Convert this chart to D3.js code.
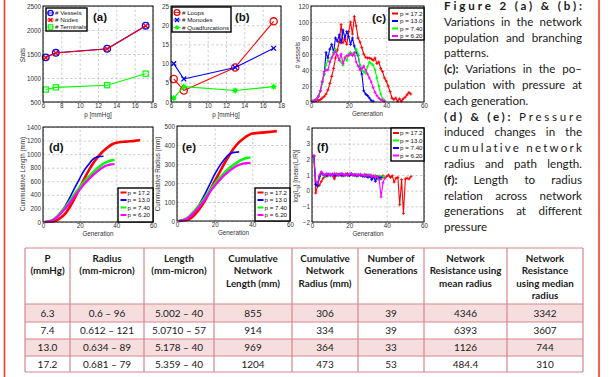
<!DOCTYPE html>
<html>
<head>
<meta charset="utf-8">
<script src="https://cdnjs.cloudflare.com/ajax/libs/d3/7.8.5/d3.min.js"></script>
<style>
  html, body { margin: 0; padding: 0; background: #fff; }
</style>
</head>
<body>
<script>
// ---------- data ----------
const pressures = [6.3, 7.4, 13.0, 17.2];
const vessels = [1430, 1525, 1610, 2090];
const nodes = [1425, 1520, 1605, 2085];
const terminals = [760, 805, 850, 1090];
const loops = [6, 3, 9, 21];
const monodes = [10, 6, 9, 14];
const quadfurcations = [1, 4, 3, 4];

const pLabels = ["p = 17.2", "p = 13.0", "p = 7.40", "p = 6.20"];

// (c) number of vessels per generation (generation 1..n)
const count172 = [1, 1, 2, 2, 3, 5, 7, 10, 15, 23, 32, 42, 55, 65, 75, 97, 74, 78, 72, 88, 100, 85, 107, 95, 80, 75, 68, 60, 56, 55, 55, 54, 52, 55, 48, 50, 42, 38, 30, 26, 20, 13, 5, 3, 5, 1, 4, 1, 4, 6, 9, 12, 10];
const count130 = [1, 2, 4, 8, 14, 25, 35, 62, 55, 66, 72, 62, 80, 76, 84, 74, 90, 80, 88, 82, 72, 80, 70, 62, 58, 45, 35, 14, 10, 8, 5, 2, 1];
const count740 = [1, 2, 4, 8, 14, 24, 36, 46, 52, 50, 56, 62, 66, 58, 54, 50, 46, 56, 52, 60, 62, 60, 58, 66, 60, 46, 40, 38, 36, 44, 50, 48, 46, 40, 30, 20, 10, 4, 2];
const count620 = [1, 2, 3, 7, 14, 26, 38, 40, 40, 50, 55, 60, 63, 58, 52, 60, 48, 55, 58, 58, 60, 58, 62, 50, 45, 40, 42, 45, 40, 35, 30, 25, 18, 12, 8, 5, 3, 2, 1];

// (d) cumulative length [generation, mm]
const cumLen172 = [[1,0],[5,8],[8,30],[10,70],[12,120],[15,240],[18,390],[20,500],[22,610],[25,760],[28,890],[30,960],[33,1050],[35,1095],[38,1150],[40,1168],[45,1185],[50,1195],[53,1204]];
const cumLen130 = [[1,0],[5,20],[8,80],[10,150],[12,230],[15,380],[18,540],[20,640],[22,740],[25,850],[27,920],[29,955],[31,965],[33,969]];
const cumLen740 = [[1,0],[5,25],[8,90],[10,150],[12,210],[15,320],[18,440],[20,510],[22,580],[25,670],[28,750],[30,800],[33,860],[35,885],[37,905],[39,914]];
const cumLen620 = [[1,0],[5,20],[8,80],[10,135],[12,195],[15,295],[18,410],[20,475],[22,545],[25,630],[28,710],[30,755],[33,810],[35,835],[37,850],[39,855]];

// (e) cumulative radius [generation, mm]
const cumRad172 = [[1,0],[5,5],[8,20],[10,40],[12,65],[15,110],[18,170],[20,210],[22,245],[25,300],[28,350],[30,380],[33,415],[35,432],[38,452],[40,460],[45,465],[50,470],[53,473]];
const cumRad130 = [[1,0],[5,10],[8,35],[10,60],[12,90],[15,145],[18,205],[20,245],[22,280],[25,322],[27,345],[29,358],[31,362],[33,364]];
const cumRad740 = [[1,0],[5,12],[8,40],[10,62],[12,85],[15,125],[18,168],[20,195],[22,220],[25,252],[28,280],[30,295],[33,315],[35,325],[37,332],[39,334]];
const cumRad620 = [[1,0],[5,10],[8,35],[10,55],[12,78],[15,115],[18,160],[20,185],[22,208],[25,240],[28,265],[30,280],[33,296],[35,302],[37,305],[39,306]];

// (f) log(L/R) per generation (generation 1..n)
const ratio172 = [2.2, -0.15, 0.3, 0.35, 0.6, 0.8, 0.9, 0.95, 1.0, 1.0, 0.95, 0.75, 1.0, 1.05, 1.0, 1.05, 0.95, 1.0, 1.1, 1.0, 1.05, 1.0, 1.0, 0.95, 1.0, 1.0, 0.95, 1.0, 0.9, 1.0, 0.95, 0.85, 0.9, 0.95, 0.8, 0.9, 0.75, 0.95, 0.8, 0.9, 1.0, 0.85, 0.95, 0.55, 0.8, 0.85, -0.9, 0.7, -1.45, 0.75, 0.8, 0.75, 0.9];
const ratio130 = [2.1, 0.5, 0.4, 0.8, 1.1, 1.0, 0.9, 1.05, 1.0, 0.95, 1.05, 1.0, 1.1, 0.95, 1.0, 1.05, 1.0, 0.95, 1.05, 1.0, 1.1, 1.0, 0.95, 1.05, 1.0, 1.0, 0.9, 1.05, 0.95, 1.0, 0.9, 1.0, 0.85, 0.9, 0.75, 0.95, 0.8, 0.9, 0.85];
const ratio740 = [2.2, 0.4, 0.3, 0.9, 1.15, 1.05, 1.0, 0.95, 1.05, 1.0, 1.05, 0.95, 1.0, 1.0, 1.05, 0.95, 1.0, 1.05, 1.0, 0.95, 1.05, 1.0, 1.0, 0.95, 1.0, 1.0, 0.95, 0.9, 1.0, 0.85, 0.95, 0.7, 0.9, 0.6, 0.9, 0.8, 0.85];
const ratio620 = [2.25, 0.6, 0.5, 1.0, 1.2, 1.05, 1.0, 1.1, 1.0, 1.05, 1.0, 1.1, 1.05, 1.0, 1.05, 1.1, 1.0, 1.05, 1.0, 1.05, 1.1, 1.0, 1.05, 1.0, 1.0, 1.05, 1.0, 0.95, 1.0, 0.95, 1.0, 0.9, 0.95, 0.85, 0.9, 0.7, -0.4, 0.5, 0.8];

const pTicks = [6, 8, 10, 12, 14, 16, 18];
const genTicks = [0, 20, 40, 60];

const tableHead = [["P", "(mmHg)"], ["Radius", "(mm-micron)"], ["Length", "(mm-micron)"],
  ["Cumulative", "Network", "Length (mm)"], ["Cumulative", "Network", "Radius (mm)"],
  ["Number of", "Generations"], ["Network", "Resistance using", "mean radius"],
  ["Network", "Resistance", "using median", "radius"]];
const tableRows = [
  ["6.3", "0.6 – 96", "5.002 – 40", "855", "306", "39", "4346", "3342"],
  ["7.4", "0.612 – 121", "5.0710 – 57", "914", "334", "39", "6393", "3607"],
  ["13.0", "0.634 – 89", "5.178 – 40", "969", "364", "33", "1126", "744"],
  ["17.2", "0.681 – 79", "5.359 – 40", "1204", "473", "53", "484.4", "310"]
];

// caption: [bold part, normal part]
const captionLines = [
  ["Figure 2 (a) & (b):", ""],
  ["", "Variations in the network"],
  ["", "population and branching"],
  ["", "patterns."],
  ["(c):", "Variations in the po–"],
  ["", "pulation with pressure at"],
  ["", "each generation."],
  ["(d) & (e):", "Pressure"],
  ["", "induced changes in the"],
  ["", "cumulative network"],
  ["", "radius and path length."],
  ["(f):", "Length to radius"],
  ["", "relation across network"],
  ["", "generations at different"],
  ["", "pressure"]
];
const captionRagged = [3, 6, 14];
const captionSpread = [0, 7, 9];

// ---------- drawing ----------
const AX_FONT = "'Liberation Sans', Arial, sans-serif";
const TXT_FONT = "Lato, 'Open Sans', sans-serif";
const RED = "#ff0000", BLUE = "#0000ff", GREEN = "#00ff00", MAG = "#ff00ff";

const svg = d3.select("body").append("svg")
  .attr("width", 610).attr("height", 377)
  .style("display", "block");

svg.append("rect").attr("width", 610).attr("height", 377).attr("fill", "#fff");

function panel(b, xDom, yDom, xTicks, yTicks) {
  const g = svg.append("g");
  const x = d3.scaleLinear().domain(xDom).range([b.x0, b.x1]);
  const y = d3.scaleLinear().domain(yDom).range([b.y1, b.y0]);
  g.append("rect").attr("x", b.x0).attr("y", b.y0)
    .attr("width", b.x1 - b.x0).attr("height", b.y1 - b.y0).attr("fill", "#fff");

  const fmt = d3.format("d");
  const gx = g.append("g").attr("transform", `translate(0,${b.y1})`)
    .call(d3.axisBottom(x).tickValues(xTicks).tickFormat(fmt).tickSize(-(b.y1 - b.y0)).tickPadding(1.5));
  const gy = g.append("g").attr("transform", `translate(${b.x0},0)`)
    .call(d3.axisLeft(y).tickValues(yTicks).tickFormat(fmt).tickSize(-(b.x1 - b.x0)).tickPadding(2));
  [gx, gy].forEach(a => {
    a.select(".domain").remove();
    a.selectAll(".tick line").attr("stroke", "#c4c4c4").attr("stroke-dasharray", "2.5,2").attr("stroke-width", 0.8);
    a.selectAll(".tick text").attr("font-size", 6.3).attr("font-family", AX_FONT).attr("fill", "#333");
  });
  const plot = g.append("g");
  const top = svg.append("g");
  top.append("rect").attr("x", b.x0).attr("y", b.y0)
    .attr("width", b.x1 - b.x0).attr("height", b.y1 - b.y0)
    .attr("fill", "none").attr("stroke", "#000").attr("stroke-width", 1);
  return { plot, top, x, y, b };
}

function marker(g, kind, cx, cy, color, s) {
  if (kind === "circle") {
    g.append("circle").attr("cx", cx).attr("cy", cy).attr("r", s)
      .attr("fill", "none").attr("stroke", color).attr("stroke-width", 1.3);
  } else if (kind === "x") {
    g.append("path").attr("d", `M${cx - s},${cy - s}L${cx + s},${cy + s}M${cx - s},${cy + s}L${cx + s},${cy - s}`)
      .attr("stroke", color).attr("stroke-width", 1.3);
  } else if (kind === "square") {
    g.append("rect").attr("x", cx - s).attr("y", cy - s).attr("width", 2 * s).attr("height", 2 * s)
      .attr("fill", "none").attr("stroke", color).attr("stroke-width", 1.2);
  } else if (kind === "star") {
    g.append("circle").attr("cx", cx).attr("cy", cy).attr("r", s * 0.75).attr("fill", color);
    g.append("path").attr("d", `M${cx - s},${cy}L${cx + s},${cy}M${cx},${cy - s}L${cx},${cy + s}M${cx - s * 0.7},${cy - s * 0.7}L${cx + s * 0.7},${cy + s * 0.7}M${cx - s * 0.7},${cy + s * 0.7}L${cx + s * 0.7},${cy - s * 0.7}`)
      .attr("stroke", color).attr("stroke-width", 1);
  } else if (kind === "plus") {
    g.append("path").attr("d", `M${cx - s},${cy}L${cx + s},${cy}M${cx},${cy - s}L${cx},${cy + s}`)
      .attr("stroke", color).attr("stroke-width", 0.9);
  }
}

function series(p, pts, color, width, mk, mkSize, curve) {
  const line = d3.line().x(d => p.x(d[0])).y(d => p.y(d[1]));
  if (curve) line.curve(curve);
  p.plot.append("path").datum(pts).attr("d", line)
    .attr("fill", "none").attr("stroke", color).attr("stroke-width", width)
    .attr("stroke-linejoin", "round");
  if (mk) pts.forEach(d => marker(p.plot, mk, p.x(d[0]), p.y(d[1]), color, mkSize));
}

const byGen = arr => arr.map((v, i) => [i + 1, v]);
const byP = arr => arr.map((v, i) => [pressures[i], v]);

function legend(p, lx, ly, w, h, items, rowY, symX, textX, lineSample) {
  const g = p.top.append("g");
  g.append("rect").attr("x", lx).attr("y", ly).attr("width", w).attr("height", h)
    .attr("fill", "#fff").attr("stroke", "#000").attr("stroke-width", 1.4);
  items.forEach((it, i) => {
    const yy = rowY[i];
    if (lineSample) {
      g.append("line").attr("x1", symX - 3).attr("x2", symX + 3).attr("y1", yy).attr("y2", yy)
        .attr("stroke", it.color).attr("stroke-width", 2);
    } else {
      g.append("line").attr("x1", symX - 3.5).attr("x2", symX + 3.5).attr("y1", yy).attr("y2", yy)
        .attr("stroke", it.color).attr("stroke-width", 0.8);
      marker(g, it.mk, symX, yy, it.color, it.s);
    }
    g.append("text").attr("x", textX).attr("y", yy).attr("dy", "0.35em")
      .attr("font-size", 6.2).attr("font-family", AX_FONT).attr("fill", "#111").text(it.label);
  });
}

function tag(p, tx, ty, s) {
  p.top.append("text").attr("x", tx).attr("y", ty).attr("font-size", 11.5)
    .attr("font-weight", "bold").attr("font-family", AX_FONT).attr("fill", "#111").text(s);
}

function xLabel(p, ty, s) {
  p.top.append("text").attr("x", (p.b.x0 + p.b.x1) / 2).attr("y", ty).attr("text-anchor", "middle")
    .attr("font-size", 6.3).attr("font-family", AX_FONT).attr("fill", "#333").text(s);
}
function yLabel(p, tx, cy, s) {
  return p.top.append("text").attr("transform", `translate(${tx},${cy}) rotate(-90)`).attr("text-anchor", "middle")
    .attr("font-size", 6.3).attr("font-family", AX_FONT).attr("fill", "#333").text(s);
}

// (a)
const pa = panel({ x0: 43, x1: 153, y0: 6, y1: 102 }, [6, 18], [500, 2500], pTicks, [500, 1000, 1500, 2000, 2500]);
series(pa, byP(vessels), BLUE, 1.1, "circle", 3.3);
series(pa, byP(nodes), RED, 1.1, "x", 2.4);
series(pa, byP(terminals), GREEN, 1.1, "square", 2.6);
legend(pa, 46, 8, 41, 23, [
  { label: "# Vessels", color: BLUE, mk: "circle", s: 2.6 },
  { label: "# Nodes", color: RED, mk: "x", s: 2 },
  { label: "# Terminals", color: GREEN, mk: "square", s: 2.2 }], [13, 20, 27], 50.5, 55);
tag(pa, 93, 21, "(a)");
xLabel(pa, 116.5, "p [mmHg]");
yLabel(pa, 25, 55, "Stats");

// (b)
const pb = panel({ x0: 171, x1: 281, y0: 6, y1: 102 }, [6, 18], [0, 25], pTicks, [0, 5, 10, 15, 20, 25]);
series(pb, byP(loops), RED, 1.1, "circle", 3.6);
series(pb, byP(monodes), BLUE, 1.1, "x", 2.4);
series(pb, byP(quadfurcations), GREEN, 1.1, "star", 3);
legend(pb, 172, 7, 59, 25, [
  { label: "# Loops", color: RED, mk: "circle", s: 2.8 },
  { label: "# Monodes", color: BLUE, mk: "x", s: 2 },
  { label: "# Quadfurcations", color: GREEN, mk: "star", s: 2.4 }], [12.5, 20, 27.5], 177, 182);
tag(pb, 235, 21, "(b)");
xLabel(pb, 116.5, "p [mmHg]");

// (c)
const pc = panel({ x0: 311, x1: 424, y0: 6, y1: 102 }, [0, 60], [0, 120], genTicks, [0, 20, 40, 60, 80, 100, 120]);
series(pc, byGen(count172), RED, 1.1, "plus", 1.5);
series(pc, byGen(count130), BLUE, 1.1, "plus", 1.5);
series(pc, byGen(count740), GREEN, 1.1, "plus", 1.5);
series(pc, byGen(count620), MAG, 1.1, "plus", 1.5);
legend(pc, 389, 8, 35, 32, pLabels.map((l, i) => ({ label: l, color: [RED, BLUE, GREEN, MAG][i] })),
  [13.5, 21, 28.5, 36], 395, 400, true);
tag(pc, 372, 22, "(c)");
xLabel(pc, 116, "Generation");
yLabel(pc, 300, 55, "# vessels");

// (d)
const pd = panel({ x0: 43, x1: 153, y0: 127, y1: 222 }, [0, 60], [0, 1400], genTicks, [0, 200, 400, 600, 800, 1000, 1200, 1400]);
series(pd, cumLen172, RED, 2.6, null, 0, d3.curveMonotoneX);
series(pd, cumLen130, BLUE, 1.6, null, 0, d3.curveMonotoneX);
series(pd, cumLen740, GREEN, 2.6, null, 0, d3.curveMonotoneX);
series(pd, cumLen620, MAG, 2.2, null, 0, d3.curveMonotoneX);
legend(pd, 118, 188, 35, 34, pLabels.map((l, i) => ({ label: l, color: [RED, BLUE, GREEN, MAG][i] })),
  [192.5, 200, 207.5, 215], 123.5, 127.5, true);
tag(pd, 49, 151, "(d)");
xLabel(pd, 235.5, "Generation");
yLabel(pd, 25, 174, "Cummulative Length (mm)");

// (e)
const pe = panel({ x0: 177, x1: 290, y0: 126, y1: 221 }, [0, 60], [0, 500], genTicks, [0, 100, 200, 300, 400, 500]);
series(pe, cumRad172, RED, 2.6, null, 0, d3.curveMonotoneX);
series(pe, cumRad130, BLUE, 1.6, null, 0, d3.curveMonotoneX);
series(pe, cumRad740, GREEN, 2.6, null, 0, d3.curveMonotoneX);
series(pe, cumRad620, MAG, 2.2, null, 0, d3.curveMonotoneX);
legend(pe, 255, 188, 35, 33, pLabels.map((l, i) => ({ label: l, color: [RED, BLUE, GREEN, MAG][i] })),
  [192.5, 200, 207.5, 215], 260.5, 264.5, true);
tag(pe, 182, 151, "(e)");
xLabel(pe, 234.5, "Generation");
yLabel(pe, 160, 174, "Cummulative Radius (mm)");

// (f)
const pf = panel({ x0: 312, x1: 424, y0: 128, y1: 222 }, [0, 60], [-2, 4], genTicks, [-2, -1, 0, 1, 2, 3, 4]);
series(pf, byGen(ratio172), RED, 1.1, "plus", 1.5);
series(pf, byGen(ratio130), GREEN, 1.1, "plus", 1.5);
series(pf, byGen(ratio740), BLUE, 1.1, "plus", 1.5);
series(pf, byGen(ratio620), MAG, 1.1, "plus", 1.5);
legend(pf, 391, 128, 33, 33, pLabels.map((l, i) => ({ label: l, color: [RED, GREEN, BLUE, MAG][i] })),
  [133, 140.5, 148, 155.5], 396, 400, true);
tag(pf, 317, 151, "(f)");
xLabel(pf, 235.5, "Generation");
const fl = yLabel(pf, 298, 176, "");
fl.append("tspan").text("log(L");
fl.append("tspan").attr("font-size", 4.5).attr("dy", 1.5).text("ij");
fl.append("tspan").attr("dy", -1.5).text(")  [mean(L/R)]");

// ---------- caption ----------
const CAP_X0 = 444, CAP_X1 = 582;
const cap = svg.append("g").attr("font-family", TXT_FONT).attr("font-size", 11.6).attr("fill", "#1a1a1a");
captionLines.forEach((ln, i) => {
  const by = 10 + i * 15.8;
  const words = [];
  ln[0].split(" ").filter(Boolean).forEach(w => words.push({ w, b: true }));
  ln[1].split(" ").filter(Boolean).forEach(w => words.push({ w, b: false }));
  if (captionSpread.includes(i)) {
    const t = cap.append("text").attr("x", CAP_X0).attr("y", by);
    words.forEach((d, k) => t.append("tspan").attr("font-weight", d.b ? "bold" : null)
      .text((k ? " " : "") + d.w));
    const nat = t.node().getComputedTextLength();
    const nChars = words.map(d => d.w).join(" ").length;
    t.attr("letter-spacing", Math.max(0, (CAP_X1 - CAP_X0 - nat) / (nChars - 1)));
    return;
  }
  const nodesW = words.map(d => cap.append("text").attr("y", by)
    .attr("font-weight", d.b ? "bold" : null).text(d.w));
  const widths = nodesW.map(n => n.node().getComputedTextLength());
  const sum = d3.sum(widths);
  const gap = captionRagged.includes(i) || words.length < 2 ? 3 : (CAP_X1 - CAP_X0 - sum) / (words.length - 1);
  let cx = CAP_X0;
  nodesW.forEach((n, k) => { n.attr("x", cx); cx += widths[k] + gap; });
});

// ---------- table ----------
const colX = [25, 70, 144, 214, 292, 358, 424, 507, 583];
const rowY = [248, 304, 322, 339, 356, 372];
const BORDER = "#d6868b", PINK = "#f6dede";
const tb = svg.append("g").attr("font-family", TXT_FONT).attr("fill", "#1a1a1a");
tableRows.forEach((r, i) => {
  if (i % 2 === 0) tb.append("rect").attr("x", colX[0]).attr("y", rowY[i + 1])
    .attr("width", colX[8] - colX[0]).attr("height", rowY[i + 2] - rowY[i + 1]).attr("fill", PINK);
});
tableHead.forEach((h, j) => {
  const cx = (colX[j] + colX[j + 1]) / 2;
  h.forEach((s, k) => tb.append("text").attr("x", cx).attr("y", 261.5 + k * 12.5)
    .attr("text-anchor", "middle").attr("font-size", 9.8).attr("font-weight", "bold").text(s));
});
tableRows.forEach((r, i) => {
  const cy = (rowY[i + 1] + rowY[i + 2]) / 2;
  r.forEach((s, j) => tb.append("text").attr("x", (colX[j] + colX[j + 1]) / 2).attr("y", cy + 3.6)
    .attr("text-anchor", "middle").attr("font-size", 10).text(s));
});
colX.forEach(cx => tb.append("line").attr("x1", cx).attr("x2", cx).attr("y1", rowY[0]).attr("y2", rowY[5])
  .attr("stroke", BORDER).attr("stroke-width", 1.2));
rowY.forEach(ry => tb.append("line").attr("x1", colX[0]).attr("x2", colX[8]).attr("y1", ry).attr("y2", ry)
  .attr("stroke", BORDER).attr("stroke-width", 1.2));

// page side rules
[4.5, 599].forEach(lx => svg.append("line").attr("x1", lx).attr("x2", lx).attr("y1", 0).attr("y2", 377)
  .attr("stroke", "#ec3b2b").attr("stroke-width", 1.6));
</script>
</body>
</html>
